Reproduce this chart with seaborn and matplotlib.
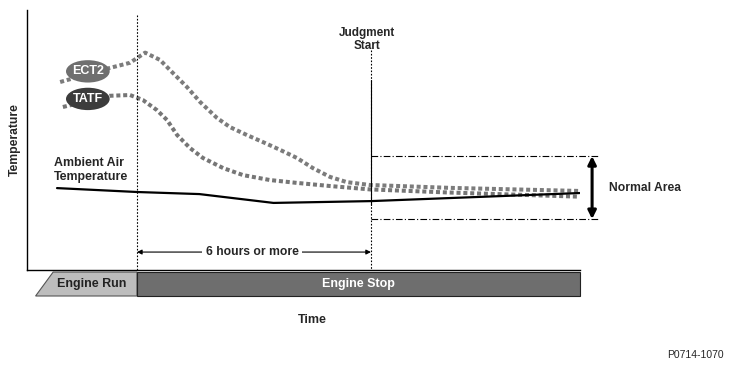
"""Soak-time temperature diagram: ECT2 / TATF cool down towards ambient after engine stop."""

import matplotlib.pyplot as plt
import numpy as np
import pandas as pd
import seaborn as sns
from matplotlib.patches import Ellipse, Polygon, Rectangle

# time in hours after engine stop, temperature in arbitrary units (0..100)
ect2_time = [-1.97, -0.7, -0.18, 0.21, 0.59, 0.92, 1.28, 1.62, 2.05, 2.38, 2.82, 3.23,
             3.67, 4.1, 4.51, 4.95, 5.38, 5.97, 8.0, 11.35]
ect2_temp = [72.3, 77.7, 79.7, 83.6, 80.8, 75.8, 70.4, 64.6, 58.5, 55.0, 51.9, 49.2,
             46.2, 43.1, 39.2, 35.8, 33.8, 32.7, 31.6, 30.4]

tatf_time = [-1.9, -0.7, -0.18, 0.15, 0.51, 0.77, 1.03, 1.36, 1.69, 2.21, 2.72, 3.41,
             4.1, 4.95, 5.97, 8.0, 11.35]
tatf_temp = [62.7, 67.0, 67.3, 65.4, 61.5, 57.7, 51.9, 46.9, 43.1, 39.2, 36.5, 34.6,
             33.5, 32.3, 31.0, 29.8, 28.2]

ambient_time = [-2.05, 0.0, 1.6, 3.5, 6.0, 11.35]
ambient_temp = [31.5, 30, 29.2, 25.8, 26.5, 29.6]

judgment_hours = 6.0
normal_low, normal_high = 19.6, 43.8

phase_names = ["Engine Run", "Engine Stop"]
phase_start = [-2.6, 0.0]
phase_end = [0.0, 11.36]

curves = pd.concat(
    [
        pd.DataFrame({"time": ect2_time, "temp": ect2_temp, "sensor": "ECT2"}),
        pd.DataFrame({"time": tatf_time, "temp": tatf_temp, "sensor": "TATF"}),
    ],
    ignore_index=True,
)

sns.set_style("white")
plt.rcParams["font.family"] = ["Liberation Sans", "DejaVu Sans"]

fig = plt.figure(figsize=(7.29, 3.69), dpi=100)
ax = fig.add_axes([27 / 729, 99 / 369, 553 / 729, 260 / 369])
ax.set_xlim(-2.82, 11.36)
ax.set_ylim(0, 100)

sns.lineplot(
    data=curves, x="time", y="temp", hue="sensor",
    palette={"ECT2": "#7c7c7c", "TATF": "#767676"},
    linewidth=2.9, dashes=False, legend=False, ax=ax, sort=False,
)
for line in ax.get_lines():
    line.set_linestyle((0, (1.0, 0.7)))
    line.set_dash_capstyle("butt")

sns.lineplot(x=ambient_time, y=ambient_temp, color="black", linewidth=1.6, ax=ax, sort=False)

# spines
for side in ["top", "right"]:
    ax.spines[side].set_visible(False)
for side in ["left", "bottom"]:
    ax.spines[side].set_linewidth(1.0)
    ax.spines[side].set_color("black")
ax.set_xticks([])
ax.set_yticks([])
ax.set_xlabel("")
ax.set_ylabel("")

# engine stop + judgment start markers
ax.plot([0, 0], [98, 0], color="black", lw=0.8, ls=(0, (1.5, 1.5)))
ax.plot([judgment_hours] * 2, [84.5, 0], color="black", lw=0.8, ls=(0, (1.5, 1.5)))
ax.plot([judgment_hours] * 2, [73, 25], color="black", lw=0.8)
ax.text(judgment_hours - 0.1, 88.5, "Judgment\nStart", ha="center", va="center",
        fontsize=8.5, fontweight="bold", linespacing=1.1)

# normal area
for lvl in (normal_low, normal_high):
    ax.plot([judgment_hours, 11.82], [lvl, lvl], color="black", lw=0.8,
            ls=(0, (6, 2, 1, 2)), clip_on=False)
ax.annotate("", xy=(11.67, normal_low), xytext=(11.67, normal_high),
            arrowprops=dict(arrowstyle="<|-|>", lw=2.2, color="black",
                            mutation_scale=12, shrinkA=0, shrinkB=0),
            annotation_clip=False)
ax.text(12.1, (normal_low + normal_high) / 2, "Normal Area", ha="left", va="center",
        fontsize=8.7, fontweight="bold", clip_on=False)

# 6 hours span
ax.annotate("", xy=(0, 6.9), xytext=(judgment_hours, 6.9),
            arrowprops=dict(arrowstyle="<|-|>", lw=0.8, color="black",
                            mutation_scale=7, shrinkA=0, shrinkB=0))
ax.text(judgment_hours / 2 - 0.05, 6.9, "6 hours or more", ha="center", va="center",
        fontsize=8.7, fontweight="bold",
        bbox=dict(facecolor="white", edgecolor="none", pad=2.5))

# sensor labels
for name, cx, cy, col in [("ECT2", -1.26, 76.4, "#6f6f6f"), ("TATF", -1.26, 65.8, "#3c3c3c")]:
    ax.add_patch(Ellipse((cx, cy), 1.12, 8.6, facecolor=col, edgecolor="none", zorder=5))
    ax.text(cx, cy, name, ha="center", va="center", color="white",
            fontsize=9, fontweight="bold", zorder=6)

ax.text(-2.14, 38.5, "Ambient Air\nTemperature", ha="left", va="center",
        fontsize=8.9, fontweight="bold", linespacing=1.15)

# engine phase bar below the axis
bar_top, bar_bot = -0.8, -10.0
run = Polygon([(phase_start[0], bar_bot), (phase_start[0] + 0.45, bar_top),
               (phase_end[0], bar_top), (phase_end[0], bar_bot)],
              closed=True, facecolor="#bdbdbd", edgecolor="#555555", lw=0.8, clip_on=False)
ax.add_patch(run)
stop = Rectangle((phase_start[1], bar_bot), phase_end[1] - phase_start[1], bar_top - bar_bot,
                 facecolor="#6e6e6e", edgecolor="#222222", lw=0.8, clip_on=False)
ax.add_patch(stop)
mid = (bar_top + bar_bot) / 2
ax.text((phase_start[0] + phase_end[0]) / 2 + 0.15, mid, phase_names[0], ha="center", va="center",
        fontsize=9, fontweight="bold", color="#222222", clip_on=False)
ax.text((phase_start[1] + phase_end[1]) / 2, mid, phase_names[1], ha="center", va="center",
        fontsize=9, fontweight="bold", color="white", clip_on=False)

fig.text(312 / 729, 1 - 320 / 369, "Time", ha="center", va="center", fontsize=9, fontweight="bold")
fig.text(15 / 729, 1 - 140 / 369, "Temperature", ha="center", va="center", rotation=90,
         fontsize=8.7, fontweight="bold")
fig.text(695 / 729, 1 - 355 / 369, "P0714-1070", ha="center", va="center", fontsize=7.5)

fig.savefig("out.png", dpi=100)
